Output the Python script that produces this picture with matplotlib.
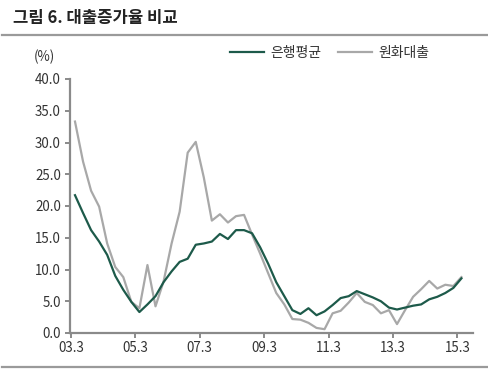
import matplotlib
matplotlib.use("Agg")
import matplotlib.pyplot as plt
from matplotlib.lines import Line2D

plt.rcParams['font.family'] = ['Noto Sans CJK KR', 'DejaVu Sans']

# quarterly data, 03.3 .. 15.3
bank_avg = [21.7, 18.9, 16.2, 14.4, 12.3, 9.0, 6.8, 4.9, 3.3, 4.5,
            5.8, 8.0, 9.7, 11.2, 11.7, 13.9, 14.1, 14.4, 15.6, 14.8,
            16.2, 16.2, 15.7, 13.5, 10.9, 8.0, 5.8, 3.6, 3.0, 3.9,
            2.8, 3.4, 4.4, 5.5, 5.8, 6.6, 6.1, 5.6, 5.0, 4.0,
            3.7, 4.0, 4.3, 4.5, 5.3, 5.7, 6.3, 7.1, 8.6]
won_loans = [33.3, 27.0, 22.4, 19.9, 14.1, 10.4, 8.8, 4.9, 3.9, 10.7,
             4.2, 8.1, 14.1, 19.1, 28.4, 30.1, 24.5, 17.7, 18.7, 17.4,
             18.4, 18.6, 15.5, 12.5, 9.4, 6.3, 4.5, 2.2, 2.1, 1.6,
             0.8, 0.6, 3.1, 3.5, 4.8, 6.3, 4.9, 4.4, 3.1, 3.6,
             1.4, 3.6, 5.7, 6.9, 8.2, 7.0, 7.6, 7.4, 8.8]
tick_labels = ['03.3', '05.3', '07.3', '09.3', '11.3', '13.3', '15.3']
y_ticks = [0, 5, 10, 15, 20, 25, 30, 35, 40]
series_names = ['은행평균', '원화대출']

W, H = 489, 380
fig = plt.figure(figsize=(W / 100, H / 100), dpi=100)
ax = fig.add_axes([70 / W, 1 - 333 / H, (473 - 70) / W, (333 - 79) / H])

x = list(range(len(bank_avg)))
ax.plot(x, bank_avg, color='#1d5a4a', lw=1.6, label=series_names[0], zorder=3)
ax.plot(x, won_loans, color='#a8a8a8', lw=1.6, label=series_names[1], zorder=2)

ax.set_xlim(-0.62, 49.44)
ax.set_ylim(0, 40)
ax.set_yticks(y_ticks)
ax.set_yticklabels([f'{v:.1f}' for v in y_ticks])
ax.set_xticks([8 * k - 0.5 for k in range(len(tick_labels))])
ax.set_xticklabels(tick_labels)

for s in ['top', 'right']:
    ax.spines[s].set_visible(False)
for s in ['left', 'bottom']:
    ax.spines[s].set_color('#8a8a8a')
    ax.spines[s].set_linewidth(1.6)
ax.tick_params(axis='both', colors='#8a8a8a', width=1.4, length=3.5,
               labelsize=9.6, labelcolor='#333333')
ax.tick_params(axis='y', pad=3)
ax.tick_params(axis='x', pad=2.5)

fig.text(34 / W, 1 - 57 / H, '(%)', fontsize=9.6, color='#333333',
         ha='left', va='center')

leg = ax.legend(loc='center', bbox_to_anchor=((330 - 70) / (473 - 70), (333 - 53) / (333 - 79)),
                ncol=2, frameon=False, fontsize=10, handlelength=2.4,
                columnspacing=1.2, handletextpad=0.5)
for t in leg.get_texts():
    t.set_color('#333333')

fig.text(13 / W, 1 - 18 / H, '그림 6. 대출증가율 비교', fontsize=12, fontweight='bold',
         color='#222222', ha='left', va='center')

fig.add_artist(Line2D([2 / W, 1.0], [1 - 35 / H, 1 - 35 / H], transform=fig.transFigure,
                      color='#9a9a9a', lw=1.6))
fig.add_artist(Line2D([2 / W, 488 / W], [1 - 367 / H, 1 - 367 / H], transform=fig.transFigure,
                      color='#9a9a9a', lw=1.6))

fig.savefig('out.png', dpi=100)
